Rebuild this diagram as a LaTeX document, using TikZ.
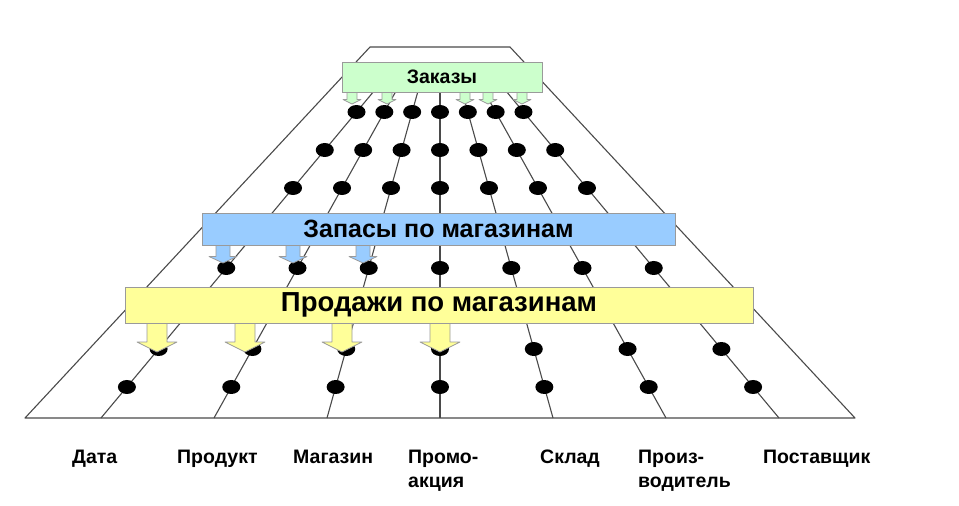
\documentclass[tikz,border=0pt]{standalone}
\usepackage{fontspec}
\setmainfont{Liberation Sans}
\usetikzlibrary{shapes.geometric,calc}
\definecolor{zgreen}{HTML}{CCFFCC}
\definecolor{zblue}{HTML}{99CCFF}
\definecolor{zyellow}{HTML}{FFFF99}
\definecolor{gline}{HTML}{4A4A4A}
\definecolor{bedge}{HTML}{9A9A9A}
\newcommand\blockarr[7]{%
  \fill[#1] ({#2-#6},#3) -- ({#2-#6},#4) -- ({#2-#7},#4) -- (#2,#5) -- ({#2+#7},#4) -- ({#2+#6},#4) -- ({#2+#6},#3) -- cycle;
  \draw[bedge, line width=0.8pt, line join=round] ({#2-#6},#3) -- ({#2-#6},#4) -- ({#2-#7},#4) -- (#2,#5) -- ({#2+#7},#4) -- ({#2+#6},#4) -- ({#2+#6},#3);
}
\begin{document}
\begin{tikzpicture}[x=1pt,y=-1pt,
  gridline/.style={draw=gline, line width=1.1pt},
  dot/.style={ellipse, fill=black, inner sep=0pt, minimum width=18pt, minimum height=14pt},
  band/.style={draw=bedge, line width=0.8pt, inner sep=0pt, font=\bfseries},
  lbl/.style={font=\bfseries\fontsize{19.5}{22}\selectfont, anchor=base west, inner sep=0pt},
]
\useasboundingbox (0,0) rectangle (959,506);
% trapezoid
\coordinate (TL) at (370,47);
\coordinate (TR) at (510,47);
\coordinate (BR) at (855,418);
\coordinate (BL) at (25,418);
\draw[gridline, line join=round] (BL) -- (TL) -- (TR) -- (BR) -- cycle;
% internal lines (their upper ends are hidden behind the "Заказы" band)
\foreach \k in {1,...,7}{
  \coordinate (t\k) at ({440+9.74*(\k-4)},47);
  \coordinate (b\k) at ({440+113*(\k-4)},418);
  \coordinate (s\k) at ($(t\k)!{23/371}!(b\k)$);
  \draw[gridline] (s\k) -- (b\k);
}
% dots
\foreach \r/\yy in {1/112,2/150,3/188,4/268,5/349,6/387}{
  \foreach \k in {1,...,7}{
    \node[dot] (d\r\k) at ($(t\k)!{(\yy-47)/371}!(b\k)$) {};
  }
}
% arrows
\foreach \xx in {352,387,465,488,522}{\blockarr{zgreen}{\xx}{91}{99.5}{104}{5}{9}}
\foreach \xx in {223,293,363}{\blockarr{zblue}{\xx}{244}{256.5}{263}{7}{14}}
\foreach \xx in {157,245,342,440}{\blockarr{zyellow}{\xx}{322}{342}{352}{10}{20}}
% bands
\node[band, fill=zgreen, minimum width=200pt, minimum height=30pt, font=\bfseries\fontsize{19.5}{22}\selectfont] (orders) at (442,77) {Заказы};
\node[band, fill=zblue, minimum width=473pt, minimum height=32pt, font=\bfseries\fontsize{25}{28}\selectfont] (stock) at (438.5,229) {Запасы по магазинам};
\node[band, fill=zyellow, minimum width=628pt, minimum height=36pt, font=\bfseries\fontsize{27.5}{31}\selectfont] (sales) at (439,305) {Продажи по магазинам};
% labels
\node[lbl] (l1) at (72,463) {Дата};
\node[lbl] (l2) at (177,463) {Продукт};
\node[lbl] (l3) at (293,463) {Магазин};
\node[lbl] (l4a) at (408,463) {Промо-};
\node[lbl] (l4b) at (408,487) {акция};
\node[lbl] (l5) at (540,463) {Склад};
\node[lbl] (l6a) at (638,463) {Произ-};
\node[lbl] (l6b) at (638,487) {водитель};
\node[lbl] (l7) at (763,463) {Поставщик};
\end{tikzpicture}
\end{document}
